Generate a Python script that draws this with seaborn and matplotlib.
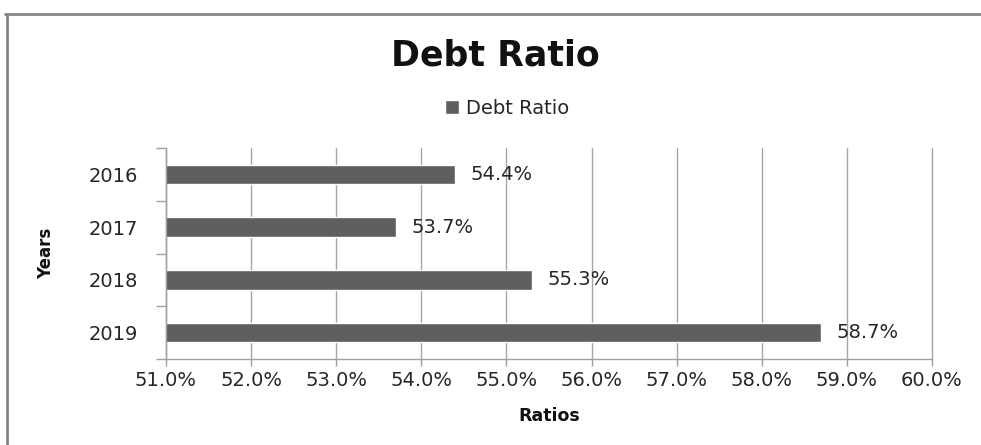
import matplotlib
matplotlib.use("Agg")
import matplotlib.pyplot as plt
import seaborn as sns
import pandas as pd
from matplotlib.lines import Line2D
from matplotlib.ticker import FixedLocator, FuncFormatter

# ---- data ----
years = ["2016", "2017", "2018", "2019"]
debt_ratio = [54.4, 53.7, 55.3, 58.7]
x_ticks = [51, 52, 53, 54, 55, 56, 57, 58, 59, 60]
series_name = "Debt Ratio"

df = pd.DataFrame({"Years": years, "Ratio": debt_ratio})

sns.set_theme(style="white")
plt.rcParams["font.family"] = ["DejaVu Sans"]

W, H = 981, 445
fig = plt.figure(figsize=(W / 100, H / 100), dpi=100)
ax = fig.add_axes([166 / W, 1 - 359 / H, (932 - 166) / W, (359 - 148) / H])

bar_color = "#5f5f5f"
sns.barplot(data=df, x="Ratio", y="Years", order=years, color=bar_color,
            orient="h", width=0.37, ax=ax, label=series_name, saturation=1)

ax.set_xlim(x_ticks[0], x_ticks[-1])
ax.set_ylim(len(years) - 0.5, -0.5)
ax.xaxis.set_major_locator(FixedLocator(x_ticks))
ax.xaxis.set_major_formatter(FuncFormatter(lambda v, p: f"{v:.1f}%"))

# grid
ax.set_axisbelow(True)
ax.grid(axis="x", color="#a6a6a6", linewidth=1.0)
ax.grid(axis="y", visible=False)
for gl in ax.get_xgridlines():
    gl.set_clip_on(False)

# spines
for s in ["top", "right"]:
    ax.spines[s].set_visible(False)
for s in ["left", "bottom"]:
    ax.spines[s].set_color("#a0a0a0")
    ax.spines[s].set_linewidth(1.0)

# ticks
ax.tick_params(axis="x", which="major", direction="out", length=5, width=1,
               color="#a0a0a0", labelsize=14, labelcolor="#262626", pad=4,
               bottom=True)
ax.tick_params(axis="y", which="major", length=0, labelsize=14,
               labelcolor="#262626", pad=20)
ax.yaxis.set_minor_locator(FixedLocator([i - 0.5 for i in range(len(years) + 1)]))
ax.tick_params(axis="y", which="minor", direction="out", length=7, width=1,
               color="#a0a0a0", left=True)

# data labels
for c in ax.containers:
    ax.bar_label(c, labels=[f"{v:.1f}%" for v in debt_ratio], padding=11,
                 fontsize=14, color="#262626")

ax.set_xlabel("Ratios", fontsize=12.5, fontweight="bold", color="#111111",
              labelpad=12)
ax.set_ylabel("Years", fontsize=12, fontweight="bold", color="#111111",
              labelpad=24)

# title
fig.text(495 / W, 1 - 65 / H, "Debt Ratio", ha="center", va="baseline",
         fontsize=25, fontweight="bold", color="#111111")

# legend
ax.legend(loc="center", bbox_to_anchor=(507 / W, 1 - 108 / H),
          bbox_transform=fig.transFigure, frameon=False, fontsize=14,
          handlelength=0.75, handleheight=0.75, handletextpad=0.35,
          labelcolor="#262626")

# outer frame (chart area border)
fig.add_artist(Line2D([5 / W, 1.0], [1 - 14 / H, 1 - 14 / H],
                      transform=fig.transFigure, color="#858585", linewidth=2))
fig.add_artist(Line2D([7 / W, 7 / W], [0, 1 - 14 / H],
                      transform=fig.transFigure, color="#858585", linewidth=2))

fig.savefig("out.png", dpi=100)
